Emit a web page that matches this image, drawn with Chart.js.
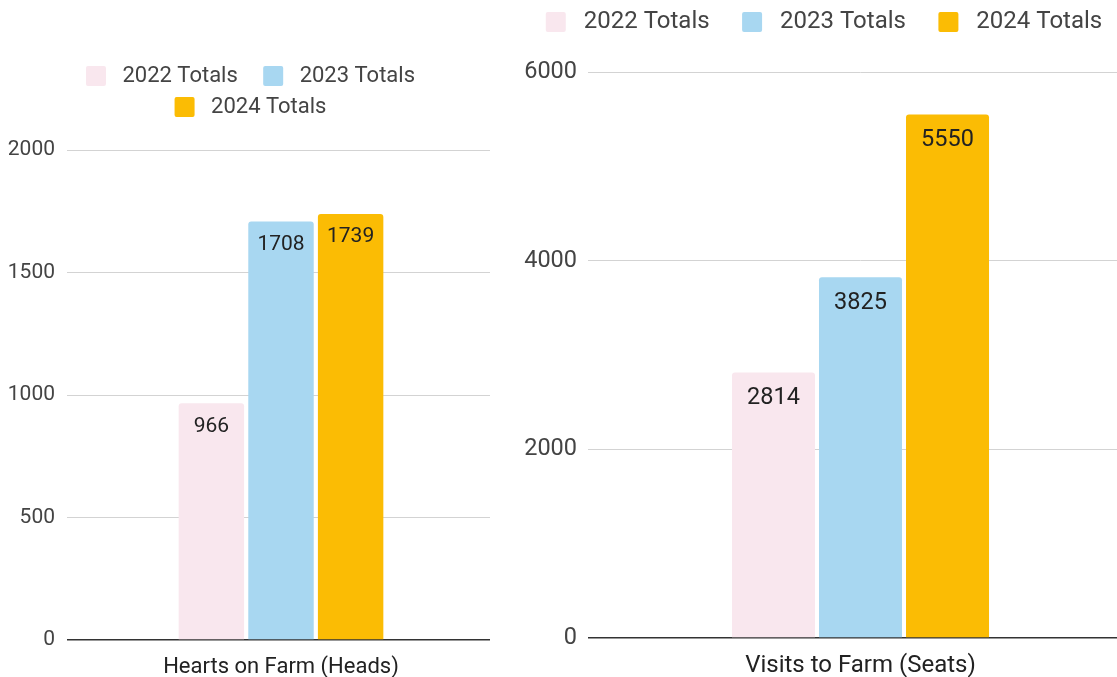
<!DOCTYPE html>
<html lang="en">
<head>
  <meta charset="UTF-8" />
  <title>Farm Totals</title>
  <script src="https://cdn.jsdelivr.net/npm/chart.js"></script>
  <style>
    body {
      margin: 0;
      background: white;
      overflow: hidden;
      font-family: Roboto, sans-serif;
    }
    .panel {
      position: absolute;
      top: 0;
      height: 677px;
      overflow: hidden;
    }
    #leftPanel { left: 0; width: 490px; }
    #rightPanel { left: 510px; width: 607px; }
  </style>
</head>
<body>

  <div class="panel" id="leftPanel"><canvas id="heartsChart" width="495" height="677"></canvas></div>
  <div class="panel" id="rightPanel"><canvas id="visitsChart" width="623" height="677"></canvas></div>

<script>
  // data
  const seriesLabels = ["2022 Totals", "2023 Totals", "2024 Totals"];
  const seriesColors = ["#f9e7ee", "#a8d7f1", "#fbbc04"];

  const heartsCategory = ["Hearts on Farm (Heads)"];
  const heartsValues = [966, 1708, 1739];
  const heartsTicks = [0, 500, 1000, 1500, 2000];

  const visitsCategory = ["Visits to Farm (Seats)"];
  const visitsValues = [2814, 3825, 5550];
  const visitsTicks = [0, 2000, 4000, 6000];

  // value labels inside the top of each bar
  const barLabels = {
    id: "barLabels",
    afterDatasetsDraw(chart, args, opts) {
      const ctx = chart.ctx;
      ctx.save();
      ctx.font = opts.size + "px Roboto";
      ctx.fillStyle = "#222";
      ctx.textAlign = "center";
      ctx.textBaseline = "middle";
      chart.data.datasets.forEach((ds, i) => {
        chart.getDatasetMeta(i).data.forEach((bar, j) => {
          ctx.fillText(ds.data[j], bar.x, bar.y + opts.offset);
        });
      });
      ctx.restore();
    }
  };

  // extra space between legend and plot
  const legendGap = {
    id: "legendGap",
    beforeUpdate(chart, args, opts) {
      const legend = chart.legend;
      if (!legend || legend._gapPatched) return;
      const fit = legend.fit;
      legend.fit = function () {
        fit.call(this);
        this.height += opts.gap;
      };
      legend._gapPatched = true;
    }
  };

  function makeChart(id, category, values, ticks, o) {
    const datasets = seriesLabels.map((label, i) => ({
      label: label,
      data: [values[i]],
      backgroundColor: seriesColors[i],
      borderRadius: 3,
      borderSkipped: "bottom",
      categoryPercentage: o.catPct,
      barPercentage: o.barPct
    }));

    return new Chart(document.getElementById(id), {
      type: "bar",
      data: { labels: category, datasets: datasets },
      plugins: [barLabels, legendGap],
      options: {
        responsive: false,
        animation: false,
        layout: { padding: { top: o.padTop, left: o.padLeft, right: 0, bottom: 0 } },
        plugins: {
          tooltip: { enabled: false },
          barLabels: { size: o.valueFont, offset: o.labelOffset },
          legendGap: { gap: o.legendGap },
          legend: {
            position: "top",
            labels: {
              color: "#444",
              font: { family: "Roboto", size: o.legendFont },
              boxWidth: 20,
              boxHeight: 20,
              useBorderRadius: true,
              borderRadius: 2,
              padding: o.legendPad,
              generateLabels(chart) {
                const items = Chart.defaults.plugins.legend.labels.generateLabels(chart);
                return items.map((it, i) => Object.assign(it, {
                  text: o.lead + it.text + (o.trail[i] || ""),
                  lineWidth: 0
                }));
              }
            }
          }
        },
        scales: {
          x: {
            grid: { display: false },
            border: { display: false },
            ticks: {
              color: "#222",
              font: { family: "Roboto", size: o.xFont },
              padding: o.xPad
            },
            afterFit(scale) { scale.height = o.xHeight; }
          },
          y: {
            min: ticks[0],
            max: ticks[ticks.length - 1],
            border: { display: false },
            grid: {
              drawTicks: false,
              color: c => c.tick.value === 0 ? "#333" : "#d3d3d3",
              lineWidth: c => c.tick.value === 0 ? 1.5 : 1
            },
            ticks: {
              stepSize: ticks[1] - ticks[0],
              color: "#444",
              font: { family: "Roboto", size: o.yFont },
              padding: o.yPad,
              callback: v => String(v)
            },
            afterFit(scale) { scale.width = o.yWidth; }
          }
        }
      }
    });
  }

  makeChart("heartsChart", heartsCategory, heartsValues, heartsTicks, {
    legendFont: 22, xFont: 22, yFont: 21, valueFont: 21,
    padTop: 56, padLeft: 6, legendPad: 9, legendGap: 22,
    lead: " ", trail: ["   "], labelOffset: 23,
    xPad: 6, xHeight: 37, yPad: 12, yWidth: 61,
    catPct: 0.488, barPct: 0.94
  });

  makeChart("visitsChart", visitsCategory, visitsValues, visitsTicks, {
    legendFont: 24, xFont: 24, yFont: 23.5, valueFont: 23.5,
    padTop: 2, padLeft: 5, legendPad: 8, legendGap: 28,
    lead: " ", trail: ["\u2003", "\u2003"], labelOffset: 26,
    xPad: 6, xHeight: 39, yPad: 11, yWidth: 73,
    catPct: 0.479, barPct: 0.954
  });
</script>

</body>
</html>
